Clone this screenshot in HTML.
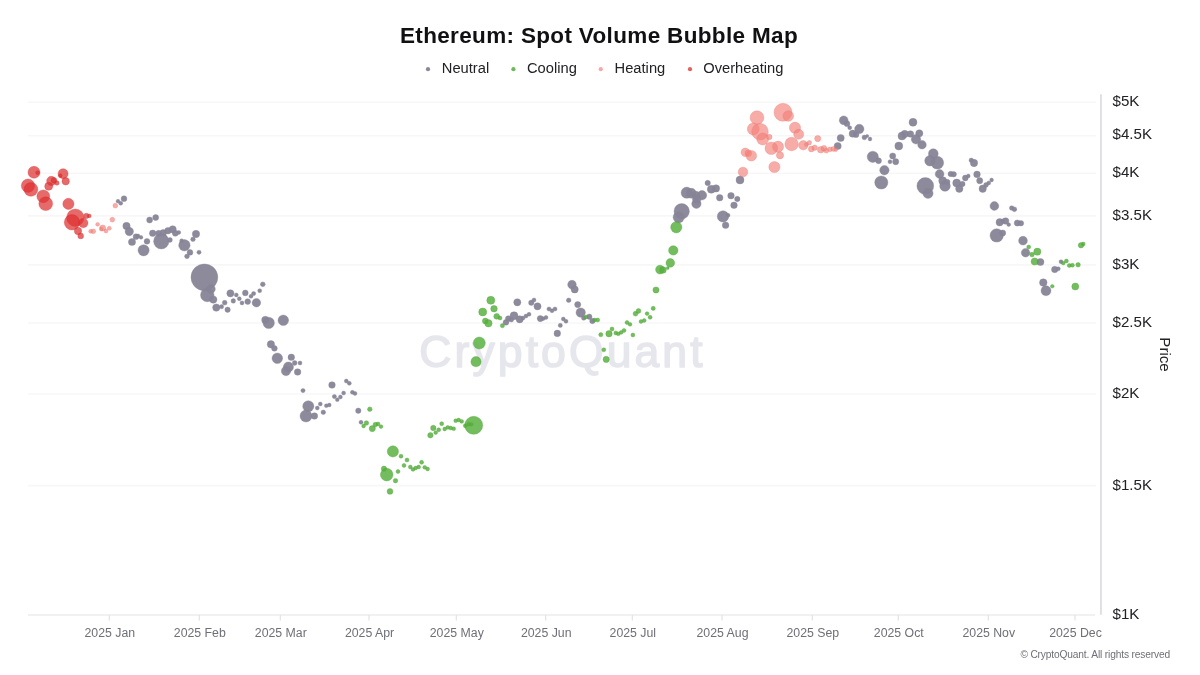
<!DOCTYPE html>
<html lang="en"><head><meta charset="utf-8"><title>Ethereum: Spot Volume Bubble Map</title>
<style>html,body{margin:0;padding:0;background:#fff;}body{width:1200px;height:675px;overflow:hidden;font-family:"Liberation Sans",Arial,sans-serif;}svg{display:block;}text{font-family:"Liberation Sans",Arial,sans-serif;}</style>
</head><body>
<svg width="1200" height="675" viewBox="0 0 1200 675">
<rect width="1200" height="675" fill="#ffffff"/>
<g stroke="#f7f7f8" stroke-width="1.6">
<line x1="28" y1="102.3" x2="1096" y2="102.3"/>
<line x1="28" y1="135.8" x2="1096" y2="135.8"/>
<line x1="28" y1="173.3" x2="1096" y2="173.3"/>
<line x1="28" y1="215.9" x2="1096" y2="215.9"/>
<line x1="28" y1="264.9" x2="1096" y2="264.9"/>
<line x1="28" y1="323.0" x2="1096" y2="323.0"/>
<line x1="28" y1="394.0" x2="1096" y2="394.0"/>
<line x1="28" y1="485.6" x2="1096" y2="485.6"/>
</g>
<text x="562.5" y="366.7" text-anchor="middle" font-size="44.5" fill="#e6e6ed" stroke="#e6e6ed" stroke-width="1.5" stroke-linejoin="round" letter-spacing="3.1" id="wm">CryptoQuant</text>
<g stroke="#e3e3e6" stroke-width="1.2" fill="none">
<line x1="28" y1="615" x2="1095" y2="615"/>
<line x1="109.3" y1="615" x2="109.3" y2="620.5"/>
<line x1="199.3" y1="615" x2="199.3" y2="620.5"/>
<line x1="280.3" y1="615" x2="280.3" y2="620.5"/>
<line x1="369" y1="615" x2="369" y2="620.5"/>
<line x1="456.3" y1="615" x2="456.3" y2="620.5"/>
<line x1="545.7" y1="615" x2="545.7" y2="620.5"/>
<line x1="632.3" y1="615" x2="632.3" y2="620.5"/>
<line x1="722" y1="615" x2="722" y2="620.5"/>
<line x1="812.3" y1="615" x2="812.3" y2="620.5"/>
<line x1="898.3" y1="615" x2="898.3" y2="620.5"/>
<line x1="988.3" y1="615" x2="988.3" y2="620.5"/>
<line x1="1075" y1="615" x2="1075" y2="620.5"/>
</g>
<line x1="1100.9" y1="94.2" x2="1100.9" y2="614.7" stroke="#dedee3" stroke-width="1.9"/>
<g font-size="12.3" fill="#6f6f78" text-anchor="middle" id="xl">
<text x="109.8" y="637.2">2025 Jan</text>
<text x="199.8" y="637.2">2025 Feb</text>
<text x="280.8" y="637.2">2025 Mar</text>
<text x="369.5" y="637.2">2025 Apr</text>
<text x="456.8" y="637.2">2025 May</text>
<text x="546.2" y="637.2">2025 Jun</text>
<text x="632.8" y="637.2">2025 Jul</text>
<text x="722.5" y="637.2">2025 Aug</text>
<text x="812.8" y="637.2">2025 Sep</text>
<text x="898.8" y="637.2">2025 Oct</text>
<text x="988.8" y="637.2">2025 Nov</text>
<text x="1075.5" y="637.2">2025 Dec</text>
</g>
<g font-size="15.1" fill="#222226" id="yl">
<text x="1112.5" y="105.7">$5K</text>
<text x="1112.5" y="139.3">$4.5K</text>
<text x="1112.5" y="176.9">$4K</text>
<text x="1112.5" y="219.6">$3.5K</text>
<text x="1112.5" y="268.8">$3K</text>
<text x="1112.5" y="327.0">$2.5K</text>
<text x="1112.5" y="398.2">$2K</text>
<text x="1112.5" y="490.0">$1.5K</text>
<text x="1112.5" y="619.4">$1K</text>
</g>
<text transform="translate(1159.5,354.5) rotate(90)" text-anchor="middle" font-size="15.1" fill="#222226" id="price">Price</text>
<text x="599" y="42.6" text-anchor="middle" font-size="22.5" letter-spacing="0.34" font-weight="700" fill="#111114" id="title">Ethereum: Spot Volume Bubble Map</text>
<g font-size="14.7" fill="#222226" id="leg">
<circle cx="428" cy="69.2" r="2.1" fill="#8a8899"/>
<text x="441.8" y="72.7">Neutral</text>
<circle cx="513.4" cy="69.2" r="2.1" fill="#6dbb58"/>
<text x="527" y="72.7">Cooling</text>
<circle cx="600.8" cy="69.2" r="2.1" fill="#f3aaa6"/>
<text x="614.6" y="72.7">Heating</text>
<circle cx="690" cy="69.2" r="2.1" fill="#e5605f"/>
<text x="703.3" y="72.7">Overheating</text>
</g>
<text x="1170" y="658" text-anchor="end" font-size="10.2" letter-spacing="-0.15" fill="#6f6f78" id="cr">© CryptoQuant. All rights reserved</text>
<g fill="#868496" fill-opacity="0.95" stroke="#868496" stroke-opacity="0.6" stroke-width="0.6">
<circle cx="124" cy="198.7" r="2.9"/>
<circle cx="118" cy="201.2" r="1.9"/>
<circle cx="120.7" cy="203.3" r="2"/>
<circle cx="149.6" cy="220" r="3"/>
<circle cx="155.7" cy="217.6" r="3"/>
<circle cx="126.5" cy="226" r="3.7"/>
<circle cx="129.3" cy="231.5" r="4.2"/>
<circle cx="136" cy="236.7" r="2.9"/>
<circle cx="132" cy="242" r="3.6"/>
<circle cx="141" cy="237.3" r="1.9"/>
<circle cx="138" cy="236" r="2"/>
<circle cx="147" cy="241.3" r="2.9"/>
<circle cx="143.6" cy="250.3" r="5.6"/>
<circle cx="152.7" cy="233.3" r="3.3"/>
<circle cx="161.3" cy="241.3" r="7.7"/>
<circle cx="158.7" cy="233.3" r="3"/>
<circle cx="163.3" cy="232.7" r="3.3"/>
<circle cx="168" cy="230.7" r="3.3"/>
<circle cx="172.7" cy="229.3" r="3.6"/>
<circle cx="175.3" cy="233.3" r="3"/>
<circle cx="178.7" cy="232.4" r="2"/>
<circle cx="170" cy="240" r="2.4"/>
<circle cx="196" cy="234" r="3.7"/>
<circle cx="193" cy="239.3" r="2.3"/>
<circle cx="184.4" cy="245.3" r="5.7"/>
<circle cx="181.6" cy="240.7" r="1.9"/>
<circle cx="190" cy="252.4" r="2.9"/>
<circle cx="187" cy="256.3" r="2.4"/>
<circle cx="199" cy="252.3" r="2.1"/>
<circle cx="204.4" cy="277.3" r="13.4"/>
<circle cx="207.3" cy="295" r="6.8"/>
<circle cx="210.9" cy="289" r="4.4"/>
<circle cx="213.3" cy="299.6" r="3.7"/>
<circle cx="216.3" cy="307.6" r="3.7"/>
<circle cx="221.6" cy="306.7" r="2.1"/>
<circle cx="224.7" cy="302.7" r="2.4"/>
<circle cx="227.6" cy="309.7" r="2.7"/>
<circle cx="230.4" cy="293.3" r="3.6"/>
<circle cx="236.3" cy="294.9" r="2"/>
<circle cx="233.3" cy="300.9" r="2.3"/>
<circle cx="239.3" cy="298.7" r="2"/>
<circle cx="242" cy="302.9" r="2"/>
<circle cx="245.3" cy="292.9" r="2.9"/>
<circle cx="247.7" cy="301.6" r="2.9"/>
<circle cx="251" cy="296.3" r="2"/>
<circle cx="253.6" cy="293.6" r="2.1"/>
<circle cx="256.4" cy="302.7" r="4.3"/>
<circle cx="259.7" cy="290.7" r="2"/>
<circle cx="262.8" cy="284.3" r="2.4"/>
<circle cx="265.3" cy="320" r="3.7"/>
<circle cx="268.7" cy="322.9" r="5.7"/>
<circle cx="283.3" cy="320.3" r="5.3"/>
<circle cx="270.9" cy="344.3" r="3.7"/>
<circle cx="274.4" cy="348.3" r="2.9"/>
<circle cx="277.3" cy="358.3" r="5.3"/>
<circle cx="291.3" cy="357.3" r="3.3"/>
<circle cx="294.7" cy="363" r="2.4"/>
<circle cx="300" cy="363" r="2"/>
<circle cx="288.4" cy="367" r="5.1"/>
<circle cx="286" cy="371" r="4.7"/>
<circle cx="297.6" cy="372" r="3.3"/>
<circle cx="332" cy="385" r="3.3"/>
<circle cx="303" cy="390.6" r="2.1"/>
<circle cx="346.3" cy="381" r="2"/>
<circle cx="349.3" cy="383.3" r="2"/>
<circle cx="352.4" cy="392.3" r="2"/>
<circle cx="355" cy="393.4" r="2"/>
<circle cx="343.6" cy="393" r="2"/>
<circle cx="340.4" cy="397" r="2"/>
<circle cx="334.4" cy="396.6" r="2.1"/>
<circle cx="337.3" cy="399.7" r="1.9"/>
<circle cx="308.3" cy="406.3" r="5.6"/>
<circle cx="306" cy="416" r="6"/>
<circle cx="314.4" cy="416" r="3.3"/>
<circle cx="317.3" cy="408" r="2"/>
<circle cx="320.3" cy="404" r="2"/>
<circle cx="323.3" cy="412.3" r="2.3"/>
<circle cx="326.3" cy="405.7" r="1.9"/>
<circle cx="329.3" cy="405" r="1.9"/>
<circle cx="358.3" cy="410.7" r="2.7"/>
<circle cx="361" cy="422.3" r="2"/>
<circle cx="517.3" cy="302.3" r="3.6"/>
<circle cx="506" cy="322.3" r="2.9"/>
<circle cx="508.3" cy="318.6" r="2.9"/>
<circle cx="514" cy="315.7" r="4"/>
<circle cx="511.3" cy="319.7" r="2.4"/>
<circle cx="519.7" cy="319.3" r="3.6"/>
<circle cx="523" cy="318" r="2"/>
<circle cx="526" cy="316" r="2"/>
<circle cx="529" cy="314.3" r="2"/>
<circle cx="531.3" cy="302.7" r="2.7"/>
<circle cx="534" cy="300" r="2"/>
<circle cx="537.5" cy="306.3" r="3.6"/>
<circle cx="540.3" cy="318.6" r="3.1"/>
<circle cx="543.3" cy="318.6" r="1.9"/>
<circle cx="546" cy="317.4" r="2"/>
<circle cx="549" cy="309" r="2.1"/>
<circle cx="552" cy="310.7" r="2"/>
<circle cx="555" cy="309" r="2.1"/>
<circle cx="557.3" cy="333.4" r="3.3"/>
<circle cx="560.3" cy="325.4" r="2.1"/>
<circle cx="563.3" cy="319" r="2"/>
<circle cx="566" cy="321.3" r="2"/>
<circle cx="568.7" cy="300.3" r="2.3"/>
<circle cx="572" cy="284.6" r="4.3"/>
<circle cx="574.7" cy="289.4" r="3.6"/>
<circle cx="577.7" cy="304.6" r="3.1"/>
<circle cx="580.7" cy="312.6" r="4.7"/>
<circle cx="583.7" cy="318" r="2.3"/>
<circle cx="589.3" cy="316.7" r="2.7"/>
<circle cx="592.4" cy="321" r="2.7"/>
<circle cx="681.7" cy="211.3" r="7.7"/>
<circle cx="678.7" cy="217.3" r="5.6"/>
<circle cx="686.7" cy="192.7" r="5.6"/>
<circle cx="691.3" cy="193.3" r="5"/>
<circle cx="696" cy="195.3" r="4"/>
<circle cx="702" cy="195.3" r="4.7"/>
<circle cx="696.4" cy="203.7" r="4.7"/>
<circle cx="696.7" cy="199.3" r="4.2"/>
<circle cx="707.7" cy="183" r="2.7"/>
<circle cx="711.3" cy="189.3" r="4"/>
<circle cx="716" cy="188.4" r="3.7"/>
<circle cx="719.7" cy="197.7" r="3.3"/>
<circle cx="723" cy="216.4" r="5.7"/>
<circle cx="728" cy="215.3" r="2"/>
<circle cx="725.6" cy="225.3" r="3.3"/>
<circle cx="731" cy="195.7" r="3.3"/>
<circle cx="737.3" cy="199" r="2.7"/>
<circle cx="734" cy="205.3" r="3.3"/>
<circle cx="740" cy="180" r="4"/>
<circle cx="837.7" cy="146" r="3.6"/>
<circle cx="840.7" cy="138" r="3.6"/>
<circle cx="843.7" cy="120.3" r="4.4"/>
<circle cx="847" cy="123.7" r="2.9"/>
<circle cx="849.7" cy="127.7" r="2"/>
<circle cx="859.3" cy="129" r="4.7"/>
<circle cx="852.7" cy="133.7" r="3.6"/>
<circle cx="856" cy="134.7" r="2.9"/>
<circle cx="864.4" cy="137.4" r="2.4"/>
<circle cx="867.2" cy="136" r="1.6"/>
<circle cx="870" cy="139" r="1.9"/>
<circle cx="872.8" cy="156.8" r="5.6"/>
<circle cx="878.5" cy="160.7" r="3"/>
<circle cx="884.4" cy="170.2" r="4.7"/>
<circle cx="881.3" cy="182.5" r="6.6"/>
<circle cx="890" cy="161.7" r="2"/>
<circle cx="892.7" cy="156" r="3.1"/>
<circle cx="895.7" cy="161.7" r="3.1"/>
<circle cx="898.8" cy="146" r="4"/>
<circle cx="902" cy="136" r="4"/>
<circle cx="904.7" cy="134" r="3.7"/>
<circle cx="910.4" cy="134" r="3.3"/>
<circle cx="913" cy="122.3" r="4"/>
<circle cx="916" cy="139.3" r="4.7"/>
<circle cx="919.3" cy="133.3" r="3.6"/>
<circle cx="922" cy="144.7" r="4.3"/>
<circle cx="933.3" cy="153.7" r="4.9"/>
<circle cx="930" cy="160.7" r="5.3"/>
<circle cx="937.3" cy="162.7" r="6.4"/>
<circle cx="925.3" cy="186" r="8.4"/>
<circle cx="928" cy="193.3" r="5.1"/>
<circle cx="939.6" cy="174" r="4.4"/>
<circle cx="942.7" cy="180.7" r="4"/>
<circle cx="945" cy="186" r="5.3"/>
<circle cx="947.3" cy="182" r="2.7"/>
<circle cx="950.7" cy="174" r="2.7"/>
<circle cx="953.7" cy="174.3" r="2.7"/>
<circle cx="956.7" cy="183" r="4"/>
<circle cx="959.3" cy="188.7" r="3.7"/>
<circle cx="962.4" cy="184" r="2.7"/>
<circle cx="965.3" cy="178" r="2.9"/>
<circle cx="968.3" cy="176" r="1.9"/>
<circle cx="971.3" cy="160.3" r="2.3"/>
<circle cx="974" cy="163" r="3.7"/>
<circle cx="977" cy="174.4" r="3.3"/>
<circle cx="979.7" cy="180.7" r="3.1"/>
<circle cx="982.7" cy="188.7" r="3.7"/>
<circle cx="986" cy="185" r="2.4"/>
<circle cx="988.7" cy="183" r="2"/>
<circle cx="991.6" cy="180" r="1.9"/>
<circle cx="994.4" cy="206" r="4.4"/>
<circle cx="1011.7" cy="208" r="2.3"/>
<circle cx="1014.4" cy="209.3" r="2.4"/>
<circle cx="999.7" cy="222.3" r="3.7"/>
<circle cx="1005.6" cy="221" r="3.3"/>
<circle cx="1002.7" cy="221" r="2"/>
<circle cx="1008.7" cy="224.6" r="1.9"/>
<circle cx="1017.3" cy="223" r="3.1"/>
<circle cx="1021" cy="223.3" r="2.7"/>
<circle cx="996.7" cy="235.4" r="6.7"/>
<circle cx="1002.7" cy="233" r="3.1"/>
<circle cx="1023" cy="240.7" r="4.4"/>
<circle cx="1025.6" cy="252.7" r="4.3"/>
<circle cx="1040.4" cy="262" r="3.6"/>
<circle cx="1054.7" cy="269.5" r="3.2"/>
<circle cx="1058.3" cy="268.8" r="2"/>
<circle cx="1061" cy="261.7" r="2"/>
<circle cx="1043.3" cy="282.6" r="3.8"/>
<circle cx="1046" cy="290.7" r="5"/>
</g>
<g fill="#55af3c" fill-opacity="0.82" stroke="#4aa432" stroke-opacity="0.6" stroke-width="0.6">
<circle cx="369.8" cy="409.2" r="2.3"/>
<circle cx="363.6" cy="426" r="1.9"/>
<circle cx="366.4" cy="423" r="2.3"/>
<circle cx="372.3" cy="428.6" r="3.1"/>
<circle cx="375.3" cy="424.6" r="2.3"/>
<circle cx="378" cy="424" r="2"/>
<circle cx="381" cy="426.6" r="1.9"/>
<circle cx="392.9" cy="451.4" r="5.6"/>
<circle cx="401" cy="456.2" r="2"/>
<circle cx="407" cy="460" r="2"/>
<circle cx="404" cy="465.4" r="2"/>
<circle cx="410.3" cy="467" r="1.9"/>
<circle cx="413" cy="469.4" r="1.9"/>
<circle cx="415.7" cy="468" r="1.9"/>
<circle cx="418.7" cy="467" r="1.9"/>
<circle cx="421.6" cy="462.3" r="2"/>
<circle cx="424.7" cy="467.3" r="1.9"/>
<circle cx="427.6" cy="469" r="1.9"/>
<circle cx="384" cy="468.7" r="2.7"/>
<circle cx="386.7" cy="474.6" r="6.3"/>
<circle cx="398" cy="471.5" r="2"/>
<circle cx="395.5" cy="480.7" r="2.3"/>
<circle cx="390" cy="491.4" r="2.9"/>
<circle cx="430.4" cy="435.3" r="2.7"/>
<circle cx="433.3" cy="428" r="2.7"/>
<circle cx="435.7" cy="432.6" r="1.9"/>
<circle cx="438.7" cy="429.8" r="2"/>
<circle cx="441.7" cy="423.7" r="2"/>
<circle cx="444.7" cy="429" r="1.9"/>
<circle cx="447.7" cy="427.4" r="1.9"/>
<circle cx="450.7" cy="428" r="1.9"/>
<circle cx="453.7" cy="428.7" r="1.9"/>
<circle cx="455.7" cy="420.7" r="1.9"/>
<circle cx="458.7" cy="420" r="1.9"/>
<circle cx="461.7" cy="421.4" r="1.9"/>
<circle cx="465.3" cy="425.7" r="2"/>
<circle cx="468.7" cy="424.3" r="2"/>
<circle cx="471.3" cy="424.3" r="1.9"/>
<circle cx="473.7" cy="425.3" r="9"/>
<circle cx="490.8" cy="300.3" r="4"/>
<circle cx="482.7" cy="312" r="4"/>
<circle cx="494" cy="308.7" r="3.3"/>
<circle cx="496.7" cy="316.3" r="2.9"/>
<circle cx="500" cy="318" r="2"/>
<circle cx="485.3" cy="321" r="2.9"/>
<circle cx="488.4" cy="323.3" r="3.7"/>
<circle cx="502.4" cy="325.7" r="2.1"/>
<circle cx="479.3" cy="343" r="6"/>
<circle cx="476" cy="361.7" r="5.1"/>
<circle cx="586" cy="317" r="1.9"/>
<circle cx="594.7" cy="320" r="1.9"/>
<circle cx="597.7" cy="320" r="2"/>
<circle cx="600.8" cy="334.7" r="2.1"/>
<circle cx="609" cy="333.8" r="3.2"/>
<circle cx="603.8" cy="349.8" r="2"/>
<circle cx="606.2" cy="359.4" r="3.1"/>
<circle cx="612" cy="329" r="2"/>
<circle cx="615.8" cy="333" r="2"/>
<circle cx="618.3" cy="333.8" r="1.9"/>
<circle cx="621.1" cy="332.4" r="1.9"/>
<circle cx="624" cy="330.5" r="2"/>
<circle cx="627" cy="322.5" r="2"/>
<circle cx="630" cy="324.3" r="1.9"/>
<circle cx="632.9" cy="335" r="2"/>
<circle cx="635.5" cy="313.7" r="2.4"/>
<circle cx="638.5" cy="311" r="2.4"/>
<circle cx="641" cy="321.5" r="1.9"/>
<circle cx="644.2" cy="320.5" r="1.9"/>
<circle cx="647.1" cy="313.6" r="1.9"/>
<circle cx="650.1" cy="317.3" r="2"/>
<circle cx="653.2" cy="308.4" r="2.1"/>
<circle cx="656" cy="290" r="3.1"/>
<circle cx="660" cy="269.6" r="4.4"/>
<circle cx="663" cy="270" r="3.3"/>
<circle cx="667.7" cy="268" r="1.5"/>
<circle cx="670.3" cy="262.9" r="4.3"/>
<circle cx="673.3" cy="250.4" r="4.7"/>
<circle cx="676.3" cy="227.3" r="5.6"/>
<circle cx="1028.7" cy="247" r="2"/>
<circle cx="1032" cy="254.6" r="2.3"/>
<circle cx="1037.3" cy="251.7" r="3.6"/>
<circle cx="1034.7" cy="261.5" r="3.6"/>
<circle cx="1063.3" cy="263.1" r="1.9"/>
<circle cx="1066.4" cy="261" r="2"/>
<circle cx="1069.3" cy="265.5" r="2"/>
<circle cx="1072.4" cy="265.3" r="2"/>
<circle cx="1078.1" cy="264.8" r="2.3"/>
<circle cx="1081" cy="245.3" r="2.7"/>
<circle cx="1083.3" cy="244" r="1.9"/>
<circle cx="1052.3" cy="286.3" r="1.8"/>
<circle cx="1075.3" cy="286.5" r="3.5"/>
</g>
<g fill="#f3817a" fill-opacity="0.66" stroke="#e8766e" stroke-opacity="0.5" stroke-width="0.6">
<circle cx="115.3" cy="205.7" r="2.4"/>
<circle cx="112.3" cy="219.7" r="2.4"/>
<circle cx="97.6" cy="224.3" r="1.9"/>
<circle cx="93.3" cy="231.3" r="2.4"/>
<circle cx="90.7" cy="231.3" r="2"/>
<circle cx="102.7" cy="228" r="3"/>
<circle cx="101.3" cy="229" r="2"/>
<circle cx="106" cy="231" r="2"/>
<circle cx="109.3" cy="228.3" r="2"/>
<circle cx="783" cy="112.3" r="9"/>
<circle cx="788.3" cy="116" r="5.3"/>
<circle cx="757" cy="117.7" r="6.9"/>
<circle cx="753.3" cy="129" r="6"/>
<circle cx="760" cy="131.7" r="8.3"/>
<circle cx="762.7" cy="139" r="6"/>
<circle cx="769.3" cy="137" r="2.7"/>
<circle cx="795" cy="127.7" r="5.6"/>
<circle cx="798.7" cy="134.3" r="5"/>
<circle cx="791.6" cy="144" r="6.7"/>
<circle cx="778" cy="146.7" r="5.6"/>
<circle cx="771.3" cy="148.3" r="6.3"/>
<circle cx="780" cy="155.3" r="3.6"/>
<circle cx="774.4" cy="167" r="5.6"/>
<circle cx="745.3" cy="152.3" r="4.3"/>
<circle cx="751.3" cy="155.7" r="5.3"/>
<circle cx="748.3" cy="153.3" r="3.3"/>
<circle cx="743" cy="172" r="4.8"/>
<circle cx="803.3" cy="145.3" r="4.7"/>
<circle cx="809.3" cy="142.7" r="2.3"/>
<circle cx="817.7" cy="138.6" r="3.1"/>
<circle cx="806.4" cy="144.6" r="2"/>
<circle cx="811.3" cy="149" r="2.9"/>
<circle cx="814.7" cy="147.7" r="2.7"/>
<circle cx="820.7" cy="149.7" r="3.3"/>
<circle cx="824" cy="148.3" r="2.9"/>
<circle cx="826.3" cy="150.7" r="2.4"/>
<circle cx="830" cy="149.4" r="2.4"/>
<circle cx="833.3" cy="149" r="2.4"/>
<circle cx="835.7" cy="149.7" r="1.9"/>
</g>
<g fill="#de3030" fill-opacity="0.72" stroke="#d42828" stroke-opacity="0.5" stroke-width="0.6">
<circle cx="34" cy="172.3" r="6"/>
<circle cx="37.6" cy="172.7" r="2"/>
<circle cx="63.1" cy="173.7" r="5"/>
<circle cx="60.3" cy="175.7" r="1.9"/>
<circle cx="65.7" cy="181.3" r="3.7"/>
<circle cx="28" cy="185.7" r="6.7"/>
<circle cx="30.9" cy="189.4" r="6.9"/>
<circle cx="51.3" cy="181" r="4.7"/>
<circle cx="54" cy="180.3" r="2.9"/>
<circle cx="48.7" cy="186.3" r="4"/>
<circle cx="56.9" cy="183" r="2.3"/>
<circle cx="43.3" cy="196.3" r="6.4"/>
<circle cx="45.7" cy="203.7" r="6.9"/>
<circle cx="68.4" cy="203.9" r="5.6"/>
<circle cx="75.3" cy="217.7" r="8.7"/>
<circle cx="72" cy="222.3" r="7.7"/>
<circle cx="83.3" cy="223" r="4.7"/>
<circle cx="86.3" cy="215.9" r="2.7"/>
<circle cx="89.3" cy="215.9" r="1.9"/>
<circle cx="78" cy="231" r="3.7"/>
<circle cx="80.7" cy="235.9" r="2.9"/>
</g>
</svg></body></html>
